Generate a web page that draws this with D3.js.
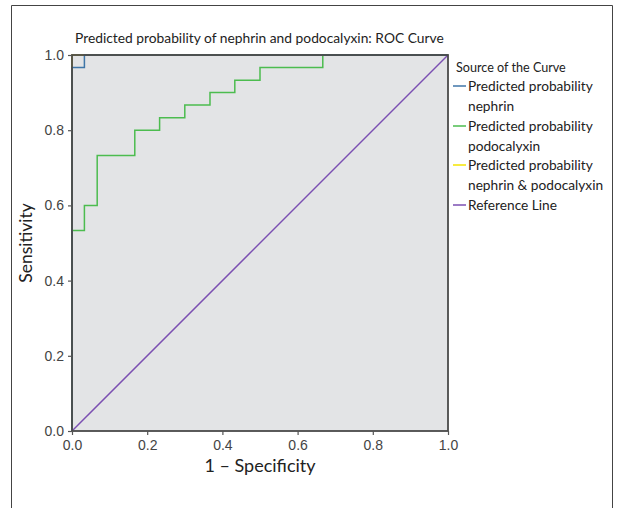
<!DOCTYPE html>
<html>
<head>
<meta charset="utf-8">
<script src="https://cdn.jsdelivr.net/npm/d3@7"></script>
<style>
  body { margin: 0; background: #fff; }
  svg { display: block; }
</style>
</head>
<body>
<svg id="chart" width="621" height="508"></svg>
<script>
// ---- data ----
const title = "Predicted probability of nephrin and podocalyxin: ROC Curve";
const xTicks = [0.0, 0.2, 0.4, 0.6, 0.8, 1.0];
const yTicks = [0.0, 0.2, 0.4, 0.6, 0.8, 1.0];
const seriesNames = ["Predicted probability\nnephrin", "Predicted probability\npodocalyxin", "Predicted probability\nnephrin & podocalyxin", "Reference Line"];
const seriesColors = ["#3f76a8", "#4cbc4f", "#f5e400", "#7b4fb2"];
// nephrin
const nephrinFpr = [0, 0, 0.033, 0.033, 1.0];
const nephrinTpr = [0, 0.967, 0.967, 1.0, 1.0];
// podocalyxin
const podoFpr = [0, 0, 0.033, 0.033, 0.067, 0.067, 0.167, 0.167, 0.233, 0.233, 0.300, 0.300, 0.367, 0.367, 0.433, 0.433, 0.500, 0.500, 0.667, 0.667, 1.0];
const podoTpr = [0, 0.533, 0.533, 0.600, 0.600, 0.733, 0.733, 0.800, 0.800, 0.833, 0.833, 0.867, 0.867, 0.900, 0.900, 0.933, 0.933, 0.967, 0.967, 1.0, 1.0];
// combined
const comboFpr = [0, 0, 1.0];
const comboTpr = [0, 1.0, 1.0];
// reference
const refFpr = [0, 1];
const refTpr = [0, 1];

// ---- layout ----
const svg = d3.select("#chart");
const L = 72, R = 448, T = 55, B = 431;
const x = d3.scaleLinear().domain([0, 1]).range([L, R]);
const y = d3.scaleLinear().domain([0, 1]).range([B, T]);

// outer frame
svg.append("path")
  .attr("d", "M11.5,508 L11.5,5.5 L612.5,5.5 L612.5,508")
  .attr("fill", "none").attr("stroke", "#444").attr("stroke-width", 1);

// plot background
svg.append("rect").attr("x", L).attr("y", T).attr("width", R - L).attr("height", B - T)
  .attr("fill", "#e3e4e6");

const line = d3.line().x(d => x(d[0])).y(d => y(d[1]));
const zip = (a, b) => a.map((v, i) => [v, b[i]]);
const curves = [
  zip(nephrinFpr, nephrinTpr),
  zip(podoFpr, podoTpr),
  zip(comboFpr, comboTpr),
  zip(refFpr, refTpr)
];
[3, 2, 1, 0].forEach(i => {
  svg.append("path").datum(curves[i])
    .attr("d", line)
    .attr("fill", "none")
    .attr("stroke", seriesColors[i])
    .attr("stroke-width", 1.5);
});

// plot frame
svg.append("rect").attr("x", L).attr("y", T).attr("width", R - L).attr("height", B - T)
  .attr("fill", "none").attr("stroke", "#4a4a4a").attr("stroke-width", 1.8);

// axes
const tickFont = "'Liberation Sans', Arial, sans-serif";
const xAxis = svg.append("g").attr("transform", `translate(0,${B})`)
  .call(d3.axisBottom(x).tickValues(xTicks).tickFormat(d3.format(".1f")).tickSize(4).tickPadding(5));
const yAxis = svg.append("g").attr("transform", `translate(${L},0)`)
  .call(d3.axisLeft(y).tickValues(yTicks).tickFormat(d3.format(".1f")).tickSize(4).tickPadding(4));
[xAxis, yAxis].forEach(a => {
  a.select(".domain").remove();
  a.attr("font-size", null);
  a.selectAll(".tick line").attr("stroke", "#555").attr("stroke-width", 1.2);
  a.selectAll(".tick text").attr("fill", "#444").style("font-family", tickFont).style("font-size", "14px");
});

const humFont = "Lato, 'Open Sans', sans-serif";
// title
svg.append("text").attr("x", 75).attr("y", 43)
  .style("font-family", humFont).style("font-size", "13.8px").attr("fill", "#222")
  .text(title);

// axis titles
svg.append("text").attr("x", (L + R) / 2).attr("y", 472).attr("text-anchor", "middle")
  .style("font-family", humFont).style("font-size", "18px").attr("fill", "#222")
  .text("1 \u2013 Specificity");
svg.append("text").attr("transform", `translate(32,${(T + B) / 2}) rotate(-90)`).attr("text-anchor", "middle")
  .style("font-family", humFont).style("font-size", "17.5px").attr("fill", "#222")
  .text("Sensitivity");

// legend
const lg = svg.append("g");
lg.append("text").attr("x", 456).attr("y", 72)
  .style("font-family", humFont).style("font-size", "12.6px").attr("fill", "#222")
  .text("Source of the Curve");
const rowY = [86, 126, 165, 205];
seriesNames.forEach((name, i) => {
  const yy = rowY[i];
  lg.append("line").attr("x1", 453).attr("x2", 466).attr("y1", yy).attr("y2", yy)
    .attr("stroke", seriesColors[i]).attr("stroke-width", 1.5);
  name.split("\n").forEach((part, j) => {
    lg.append("text").attr("x", 468).attr("y", yy + 5 + j * 19.5)
      .style("font-family", humFont).style("font-size", "13.7px").attr("fill", "#222")
      .text(part);
  });
});
</script>
</body>
</html>
